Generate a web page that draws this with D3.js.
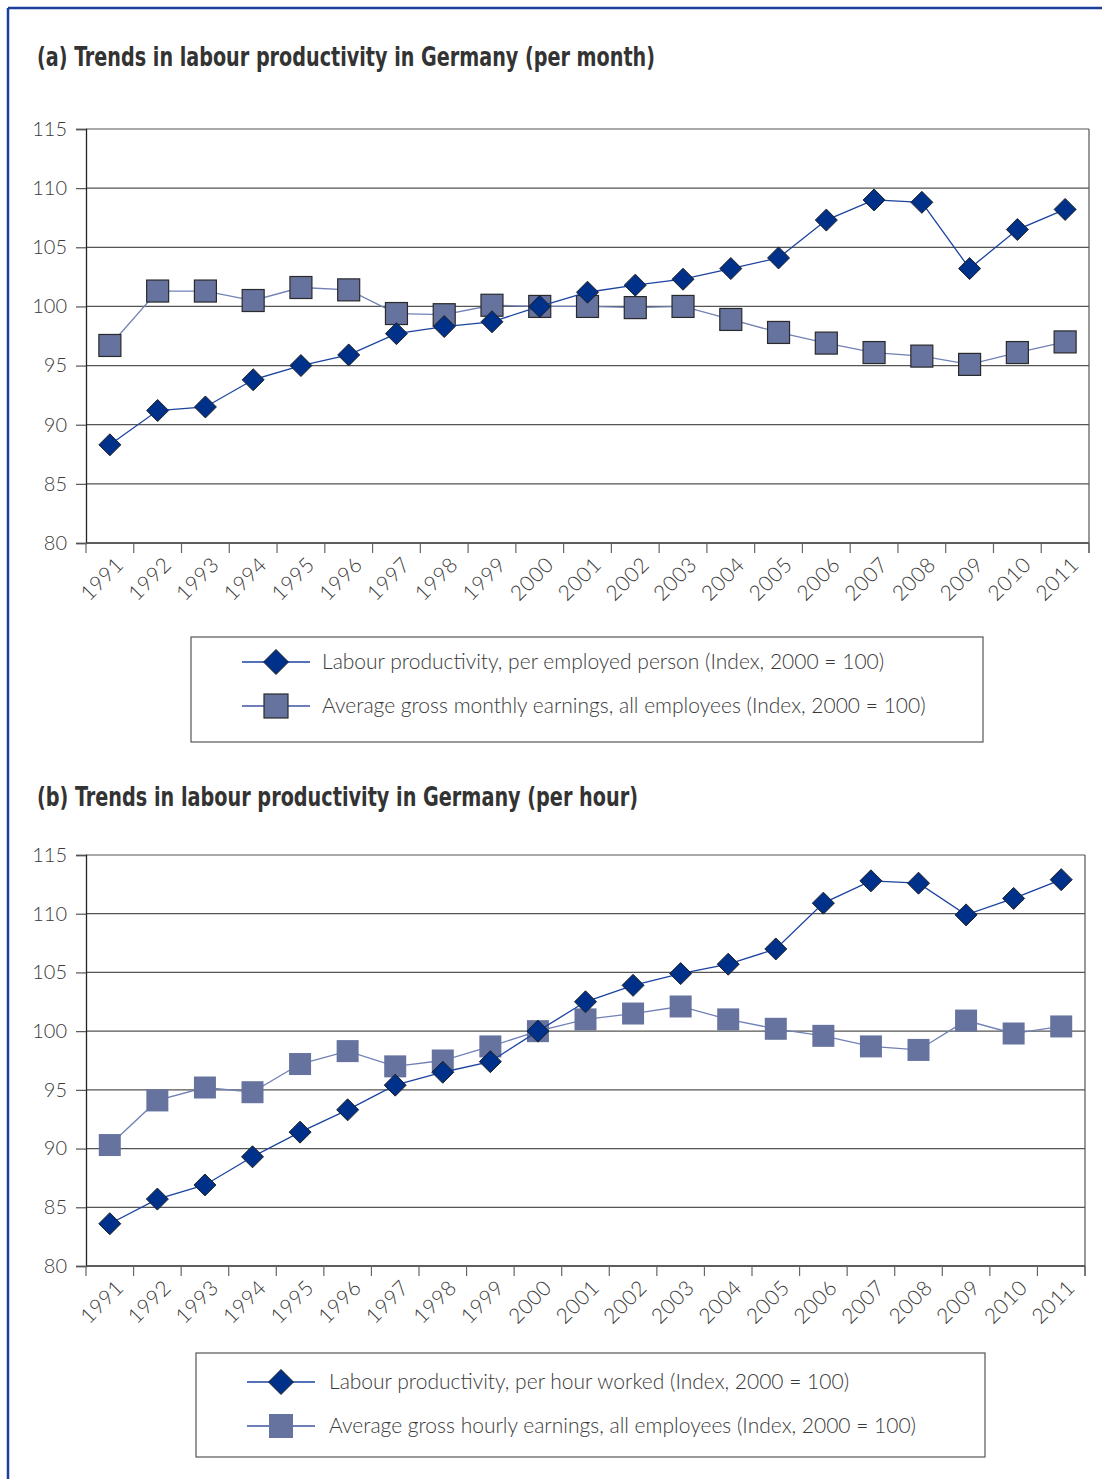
<!DOCTYPE html>
<html>
<head>
<meta charset="utf-8">
<script src="https://cdn.jsdelivr.net/npm/d3@7"></script>
<style>
  body { margin: 0; background: #fff; }
  svg { display: block; }
  .tick text { font-family: Lato, "Open Sans", sans-serif; font-weight: 300; fill: #3a3a3a; }
  .title { font-family: "Liberation Sans Narrow", "DejaVu Sans Condensed", sans-serif; font-weight: bold; fill: #333; }
  .legend text { font-family: Lato, "Open Sans", sans-serif; font-weight: 300; fill: #3a3a3a; }
</style>
</head>
<body>
<div id="chart"></div>
<script>
var years = ["1991","1992","1993","1994","1995","1996","1997","1998","1999","2000",
             "2001","2002","2003","2004","2005","2006","2007","2008","2009","2010","2011"];
var yTicks = [80, 85, 90, 95, 100, 105, 110, 115];

// (a) per month
var prodPerPerson = [88.3, 91.2, 91.5, 93.8, 95.0, 95.9, 97.7, 98.3, 98.7, 100.0,
                     101.2, 101.8, 102.3, 103.2, 104.1, 107.3, 109.0, 108.8, 103.2, 106.5, 108.2];
var monthlyEarnings = [96.7, 101.3, 101.3, 100.5, 101.6, 101.4, 99.4, 99.3, 100.1, 100.0,
                       100.0, 99.9, 100.0, 98.9, 97.8, 96.9, 96.1, 95.8, 95.1, 96.1, 97.0];

// (b) per hour
var prodPerHour = [83.6, 85.7, 86.9, 89.3, 91.4, 93.3, 95.4, 96.5, 97.4, 100.0,
                   102.5, 103.9, 104.9, 105.7, 107.0, 110.9, 112.8, 112.6, 109.9, 111.3, 112.9];
var hourlyEarnings = [90.3, 94.1, 95.2, 94.8, 97.2, 98.3, 97.0, 97.5, 98.7, 100.0,
                      101.0, 101.5, 102.1, 101.0, 100.2, 99.6, 98.7, 98.4, 100.9, 99.8, 100.4];

var diamondFill = "#00318a", diamondLine = "#1b43a0";
var squareFill = "#66739f", squareLine = "#7281b5";

var svg = d3.select("#chart").append("svg")
    .attr("width", 1102)
    .attr("height", 1479);

// outer frame
svg.append("line").attr("x1", 8).attr("x2", 1102).attr("y1", 8).attr("y2", 8)
    .attr("stroke", "#1c3f9c").attr("stroke-width", 2.5);
svg.append("line").attr("x1", 8).attr("x2", 8).attr("y1", 8).attr("y2", 1479)
    .attr("stroke", "#1c3f9c").attr("stroke-width", 2.5);

var panels = [
  {
    title: "(a) Trends in labour productivity in Germany (per month)",
    titleY: 66, titleW: 618,
    left: 86, right: 1089, top: 129, bottom: 543,
    a: prodPerPerson, b: monthlyEarnings, squareStroke: true,
    legend: {x: 191, y: 637, w: 792, h: 105, lineX: 242, textX: 322, rows: [662, 706]},
    labels: ["Labour productivity, per employed person (Index, 2000 = 100)",
             "Average gross monthly earnings, all employees (Index, 2000 = 100)"]
  },
  {
    title: "(b) Trends in labour productivity in Germany (per hour)",
    titleY: 806, titleW: 601,
    left: 86, right: 1085, top: 855, bottom: 1266,
    a: prodPerHour, b: hourlyEarnings, squareStroke: false,
    legend: {x: 196, y: 1353, w: 789, h: 104, lineX: 247, textX: 329, rows: [1382, 1426]},
    labels: ["Labour productivity, per hour worked (Index, 2000 = 100)",
             "Average gross hourly earnings, all employees (Index, 2000 = 100)"]
  }
];

function diamond(g, s) {
  g.attr("points", [[0, -s], [s, 0], [0, s], [-s, 0]].map(function(p){ return p.join(","); }).join(" "));
}

panels.forEach(function(p) {
  svg.append("text").attr("class", "title")
      .attr("x", 37).attr("y", p.titleY)
      .attr("textLength", p.titleW)
      .attr("lengthAdjust", "spacingAndGlyphs")
      .style("font-size", "26px")
      .text(p.title);

  var x = d3.scaleBand().domain(years).range([p.left, p.right]);
  var y = d3.scaleLinear().domain([80, 115]).range([p.bottom, p.top]);

  var g = svg.append("g");

  // gridlines
  g.selectAll("line.grid").data(yTicks).enter().append("line")
      .attr("class", "grid")
      .attr("x1", p.left).attr("x2", p.right)
      .attr("y1", function(d){ return y(d); }).attr("y2", function(d){ return y(d); })
      .attr("stroke", "#555").attr("stroke-width", 1.2);

  // right border
  g.append("line").attr("x1", p.right).attr("x2", p.right)
      .attr("y1", p.top).attr("y2", p.bottom + 10)
      .attr("stroke", "#555").attr("stroke-width", 1.2);

  // y axis
  var yAxis = g.append("g")
      .attr("transform", "translate(" + p.left + ",0)")
      .call(d3.axisLeft(y).tickValues(yTicks).tickSize(10).tickPadding(9));
  yAxis.select(".domain").attr("stroke", "#222").attr("stroke-width", 1.3);
  yAxis.selectAll(".tick line").attr("stroke", "#555").attr("stroke-width", 1.2);
  yAxis.selectAll(".tick text").style("font-size", "20px");

  // x axis: ticks at category boundaries
  var xAxis = g.append("g")
      .attr("transform", "translate(0," + p.bottom + ")");
  xAxis.append("line").attr("x1", p.left).attr("x2", p.right)
      .attr("stroke", "#444").attr("stroke-width", 1.3);
  var bounds = years.map(function(d){ return x(d); }).concat([p.right]);
  xAxis.selectAll("line.xt").data(bounds).enter().append("line")
      .attr("class", "xt")
      .attr("x1", function(d){ return d; }).attr("x2", function(d){ return d; })
      .attr("y1", 0).attr("y2", 10)
      .attr("stroke", "#666").attr("stroke-width", 1.2);
  xAxis.selectAll("text").data(years).enter().append("text")
      .attr("class", "tick")
      .attr("transform", function(d){
        return "translate(" + (x(d) + x.bandwidth() / 2 + 4) + ",12) rotate(-45)";
      })
      .attr("text-anchor", "end")
      .attr("dy", "0.75em")
      .style("font-family", "Lato, 'Open Sans', sans-serif")
      .style("font-weight", 300)
      .style("fill", "#3a3a3a")
      .style("font-size", "21px")
      .style("letter-spacing", "0.5px")
      .text(function(d){ return d; });

  var cx = function(d, i){ return x(years[i]) + x.bandwidth() / 2; };
  var line = d3.line().x(cx).y(function(d){ return y(d); });

  // earnings series (squares)
  g.append("path").datum(p.b)
      .attr("d", line).attr("fill", "none")
      .attr("stroke", squareLine).attr("stroke-width", 1.3);
  g.selectAll("rect.sq").data(p.b).enter().append("rect")
      .attr("class", "sq")
      .attr("x", function(d, i){ return cx(d, i) - 11; })
      .attr("y", function(d){ return y(d) - 11; })
      .attr("width", 22).attr("height", 22)
      .attr("fill", squareFill)
      .attr("stroke", p.squareStroke ? "#2a2a2a" : "none")
      .attr("stroke-width", 1.2);

  // productivity series (diamonds)
  g.append("path").datum(p.a)
      .attr("d", line).attr("fill", "none")
      .attr("stroke", diamondLine).attr("stroke-width", 1.3);
  g.selectAll("polygon.dm").data(p.a).enter().append("polygon")
      .attr("class", "dm")
      .attr("transform", function(d, i){ return "translate(" + cx(d, i) + "," + y(d) + ")"; })
      .call(diamond, 11)
      .attr("fill", diamondFill)
      .attr("stroke", "#222").attr("stroke-width", 1);

  // legend
  var L = p.legend;
  var lg = svg.append("g").attr("class", "legend");
  lg.append("rect").attr("x", L.x).attr("y", L.y).attr("width", L.w).attr("height", L.h)
      .attr("fill", "none").attr("stroke", "#555").attr("stroke-width", 1.2);
  var entries = [
    {label: p.labels[0], kind: "d"},
    {label: p.labels[1], kind: "s"}
  ];
  entries.forEach(function(e, i) {
    var ry = L.rows[i];
    lg.append("line").attr("x1", L.lineX).attr("x2", L.lineX + 68)
        .attr("y1", ry).attr("y2", ry)
        .attr("stroke", e.kind === "d" ? diamondLine : "#3e55a0").attr("stroke-width", 1.3);
    if (e.kind === "d") {
      lg.append("polygon").attr("transform", "translate(" + (L.lineX + 34) + "," + ry + ")")
          .call(diamond, 12.5)
          .attr("fill", diamondFill).attr("stroke", "#222").attr("stroke-width", 1);
    } else {
      lg.append("rect").attr("x", L.lineX + 22).attr("y", ry - 12)
          .attr("width", 24).attr("height", 24)
          .attr("fill", squareFill)
          .attr("stroke", p.squareStroke ? "#2a2a2a" : "none").attr("stroke-width", 1.2);
    }
    lg.append("text").attr("x", L.textX).attr("y", ry).attr("dy", "0.35em")
        .style("font-size", "21px")
        .text(e.label);
  });
});
</script>
</body>
</html>
